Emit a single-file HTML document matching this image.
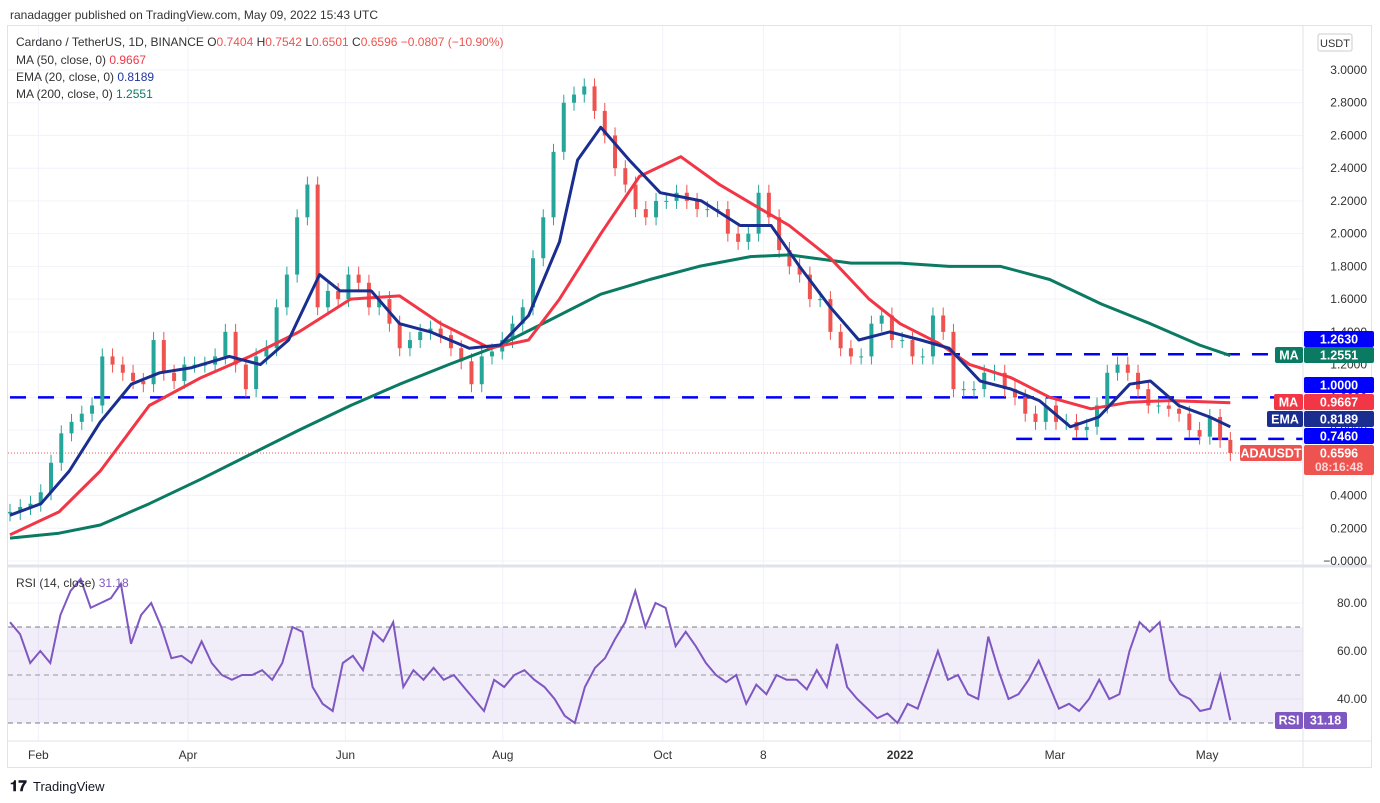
<!DOCTYPE html>
<html><head><meta charset="utf-8"><style>
body{margin:0;background:#fff;font-family:"Liberation Sans",sans-serif;}
#wrap{position:relative;width:1380px;height:803px;overflow:hidden;}
svg text{font-family:"Liberation Sans",sans-serif;}
</style></head><body>
<div id="wrap">
<svg id="chart" width="1380" height="803" xmlns="http://www.w3.org/2000/svg">
<text x="10" y="19" font-size="12" fill="#333">ranadagger published on TradingView.com, May 09, 2022 15:43 UTC</text>
<rect x="7.5" y="25.5" width="1364" height="742" fill="none" stroke="#e0e3eb"/>
<g id="grid"></g>
<rect x="8" y="627" width="1295" height="96" fill="#7e57c2" fill-opacity="0.1"/>
<g id="rsiLines"></g>
<g id="levels"></g>
<g id="candles"></g>
<g id="mas"></g>
<g id="rsi"></g>
<line x1="8" y1="566" x2="1372" y2="566" stroke="#e0e3eb" stroke-width="3"/>
<line x1="1303" y1="25" x2="1303" y2="768" stroke="#e0e3eb"/>
<line x1="8" y1="741" x2="1372" y2="741" stroke="#e0e3eb"/>
<g id="axis"></g>
<g id="tags"></g>
<g font-size="12">
<text x="16" y="46" fill="#333">Cardano / TetherUS, 1D, BINANCE  <tspan fill="#333">O</tspan><tspan fill="#ef5350">0.7404</tspan>  <tspan fill="#333">H</tspan><tspan fill="#ef5350">0.7542</tspan>  <tspan fill="#333">L</tspan><tspan fill="#ef5350">0.6501</tspan>  <tspan fill="#333">C</tspan><tspan fill="#ef5350">0.6596  −0.0807 (−10.90%)</tspan></text>
<text x="16" y="64" fill="#333">MA (50, close, 0)  <tspan fill="#f23645">0.9667</tspan></text>
<text x="16" y="81" fill="#333">EMA (20, close, 0)  <tspan fill="#2136a0">0.8189</tspan></text>
<text x="16" y="98" fill="#333">MA (200, close, 0)  <tspan fill="#0b7a63">1.2551</tspan></text>
<text x="16" y="587" fill="#333">RSI (14, close)  <tspan fill="#7e57c2">31.18</tspan></text>
</g>
<rect x="1318" y="34" width="34" height="17" rx="2" fill="#fff" stroke="#ccc"/>
<text x="1335" y="47" font-size="11" text-anchor="middle" fill="#333">USDT</text>
<g>
<text x="10" y="791" font-size="15" font-weight="bold" fill="#131722">𝟏𝟕</text>
<text x="33" y="791" font-size="13" fill="#131722">TradingView</text>
</g>
</svg>
</div>
<script>
// ---- data ----
const closes=[0.30,0.33,0.35,0.42,0.60,0.78,0.85,0.90,0.95,1.25,1.20,1.15,1.10,1.08,1.35,1.15,1.10,1.20,1.20,1.20,1.25,1.40,1.20,1.05,1.25,1.30,1.55,1.75,2.10,2.30,1.55,1.65,1.60,1.75,1.70,1.55,1.60,1.45,1.30,1.35,1.40,1.42,1.38,1.30,1.22,1.08,1.25,1.28,1.35,1.45,1.55,1.85,2.10,2.50,2.80,2.85,2.90,2.75,2.60,2.40,2.30,2.15,2.10,2.20,2.20,2.25,2.20,2.15,2.15,2.15,2.00,1.95,2.00,2.25,2.10,1.90,1.80,1.75,1.60,1.60,1.40,1.30,1.25,1.25,1.45,1.50,1.35,1.35,1.25,1.25,1.50,1.40,1.05,1.05,1.05,1.15,1.15,1.05,1.00,0.90,0.85,0.95,0.85,0.85,0.80,0.82,0.95,1.15,1.20,1.15,1.05,0.95,0.95,0.93,0.90,0.80,0.76,0.88,0.74,0.66];
const emaDays=[0,12,23,35,47,58,70,85,97,108,120,128,140,151,163,178,190,201,213,220,229,240,252,268,283,295,306,318,329,341,353,364,376,388,399,411,422,434,442,453,465,473];
const emaVals=[0.28,0.35,0.55,0.85,1.08,1.15,1.18,1.25,1.20,1.35,1.75,1.65,1.65,1.45,1.40,1.30,1.32,1.50,1.95,2.45,2.65,2.45,2.25,2.20,2.05,2.05,1.80,1.55,1.35,1.40,1.35,1.30,1.10,1.05,0.98,0.82,0.88,1.08,1.10,0.95,0.88,0.82];
const ma50Days=[0,19,35,54,74,93,112,132,151,167,186,201,213,229,244,260,275,291,302,318,333,345,360,372,388,403,419,434,450,473];
const ma50Vals=[0.16,0.30,0.55,0.95,1.12,1.25,1.40,1.60,1.62,1.45,1.30,1.35,1.60,2.00,2.35,2.47,2.30,2.15,2.05,1.85,1.60,1.45,1.33,1.20,1.12,1.00,0.93,0.97,0.98,0.967];
const ma200Days=[0,19,35,54,74,93,112,132,151,170,190,209,229,248,267,287,302,326,345,364,384,403,423,442,461,473];
const ma200Vals=[0.14,0.17,0.22,0.35,0.50,0.65,0.80,0.95,1.08,1.20,1.32,1.47,1.63,1.72,1.80,1.86,1.87,1.82,1.82,1.80,1.80,1.72,1.57,1.45,1.32,1.255];
const rsiVals=[72,67,55,60,55,75,85,90,78,80,82,88,63,75,80,70,57,58,55,64,55,50,48,50,50,52,48,55,70,68,45,38,35,55,58,52,68,64,72,45,52,48,53,48,50,45,40,35,48,45,50,52,48,45,40,33,30,45,53,57,65,72,85,70,80,78,62,68,62,55,50,47,50,38,46,42,50,48,48,44,52,45,63,45,40,36,32,34,30,38,36,48,60,48,50,42,40,66,52,40,42,48,56,46,36,38,35,40,48,40,42,60,72,68,72,48,42,40,35,36,50,31.18];
const priceTicks=[3.0,2.8,2.6,2.4,2.2,2.0,1.8,1.6,1.4,1.2,1.0,0.8,0.6,0.4,0.2,0.0];
const rsiTicks=[80,60,40];
const timeLabels=["Feb","Apr","Jun","Aug","Oct","8","2022","Mar","May"];
const timeDays=[11,69,130,191,253,292,345,405,464];
const levelVals=[1.263,1.0,0.746];
const levelStartDays=[362,0,390];
// ---- scales ----
const TOTAL=473;
const xd=d=>10+d*2.58;
const yp=p=>561-p*163.67;
const yr=r=>795-2.4*r;
const NS="http://www.w3.org/2000/svg";
function mk(tag,attrs,parent){const e=document.createElementNS(NS,tag);for(const k in attrs)e.setAttribute(k,attrs[k]);parent.appendChild(e);return e;}
const G=id=>document.getElementById(id);
timeDays.forEach((d,i)=>{
 const l=mk('line',{x1:xd(d),x2:xd(d),y1:26,y2:741,stroke:'#f0f3fa'},G('grid'));
 
 
 const t=mk('text',{x:xd(d),y:759,'font-size':12,'text-anchor':'middle',fill:'#333','font-weight':timeLabels[i]==='2022'?'bold':'normal'},G('axis'));
 t.textContent=timeLabels[i];
 
 
});
priceTicks.forEach(p=>{
 const l=mk('line',{x1:8,x2:1303,y1:yp(p),y2:yp(p),stroke:'#f0f3fa'},G('grid'));
 
 
 const t=mk('text',{x:1367,y:yp(p)+4,'font-size':12,'text-anchor':'end',fill:'#333'},G('axis'));
 t.textContent=p===0?'−0.0000':p.toFixed(4);
 
 
});
rsiTicks.forEach(r=>{
 const l=mk('line',{x1:8,x2:1303,y1:yr(r),y2:yr(r),stroke:'#f0f3fa'},G('grid'));
 
 
 const t=mk('text',{x:1367,y:yr(r)+4,'font-size':12,'text-anchor':'end',fill:'#333'},G('axis'));
 t.textContent=r.toFixed(2);
 
 
});
[70,50,30].forEach(r=>{
 const l=mk('line',{x1:8,x2:1303,y1:yr(r),y2:yr(r),stroke:r===50?'#9598a1':'#787b86','stroke-dasharray':'5 4'},G('rsiLines'));
 
 
});
levelVals.forEach((v,i)=>{
 const l=mk('line',{x1:xd(levelStartDays[i]),x2:1303,y1:yp(v),y2:yp(v),stroke:'#0000ff','stroke-width':2.5,'stroke-dasharray':'16 12'},G('levels'));
 
 
});
const lp=mk('line',{x1:8,x2:1303,y1:yp(closes[closes.length-1]),y2:yp(closes[closes.length-1]),stroke:'#ef5350','stroke-dasharray':'1 2'},G('levels'));


const n=closes.length, step=TOTAL/(n-1);
for(let i=0;i<n;i++){
 const o=i?closes[i-1]:closes[0]*0.97, c=closes[i];
 const x=xd(i*step), up=c>=o;
 const col=up?'#26a69a':'#ef5350';
 const top=yp(Math.max(o,c)), bot=yp(Math.min(o,c));
 const w=mk('line',{x1:x,x2:x,y1:top-8,y2:bot+8,stroke:col,'stroke-width':1},G('candles'));
 
 
 const r=mk('rect',{x:x-2,y:top,width:4,height:Math.max(1,bot-top),fill:col},G('candles'));
 
 
}
function line(days,vals,col,name){
 const d=days.map((dd,i)=>(i?'L':'M')+xd(dd).toFixed(1)+' '+yp(vals[i]).toFixed(1)).join(' ');
 const p=mk('path',{d:d,fill:'none',stroke:col,'stroke-width':3,'stroke-linejoin':'round'},G('mas'));
 
 
}
line(ma200Days,ma200Vals,'#0b7a63','ma200-line');
line(ma50Days,ma50Vals,'#f23645','ma50-line');
line(emaDays,emaVals,'#1a2e8f','ema20-line');
const rs=TOTAL/(rsiVals.length-1);
const rp=mk('path',{d:rsiVals.map((v,i)=>(i?'L':'M')+xd(i*rs).toFixed(1)+' '+yr(v).toFixed(1)).join(' '),fill:'none',stroke:'#7e57c2','stroke-width':2},G('rsi'));


function tag(x,y,w,h,bg,txt,fg,name,sub){
 const g=mk('g',{},G('tags'));
 
 
 mk('rect',{x:x,y:y,width:w,height:h,rx:2,fill:bg},g);
 const t=mk('text',{x:x+w/2,y:y+12.5,'font-size':12.5,'font-weight':'bold','text-anchor':'middle',fill:fg},g);
 t.textContent=txt;
 if(sub){const s=mk('text',{x:x+w/2,y:y+26,'font-size':12,'font-weight':'bold','text-anchor':'middle',fill:'#fcd7d6'},g);s.textContent=sub;}
}
tag(1304,331,70,16,'#0000ff','1.2630','#fff','tag-level-1263');
tag(1304,347,70,16,'#0b7a63','1.2551','#fff','tag-ma200');
tag(1275,347,28,16,'#0b7a63','MA','#fff','tag-ma200-name');
tag(1304,377,70,16,'#0000ff','1.0000','#fff','tag-level-1');
tag(1304,394,70,16,'#f23645','0.9667','#fff','tag-ma50');
tag(1274,394,29,16,'#f23645','MA','#fff','tag-ma50-name');
tag(1304,411,70,16,'#1a2e8f','0.8189','#fff','tag-ema20');
tag(1267,411,36,16,'#1a2e8f','EMA','#fff','tag-ema20-name');
tag(1304,428,70,16,'#0000ff','0.7460','#fff','tag-level-0746');
tag(1304,445,70,30,'#ef5350','0.6596','#fff','tag-last-price','08:16:48');
tag(1240,445,62,16,'#ef5350','ADAUSDT','#fff','tag-symbol');
tag(1304,712,43,17,'#7e57c2','31.18','#fff','tag-rsi');
tag(1275,712,28,17,'#7e57c2','RSI','#fff','tag-rsi-name');
</script>
</body></html>
